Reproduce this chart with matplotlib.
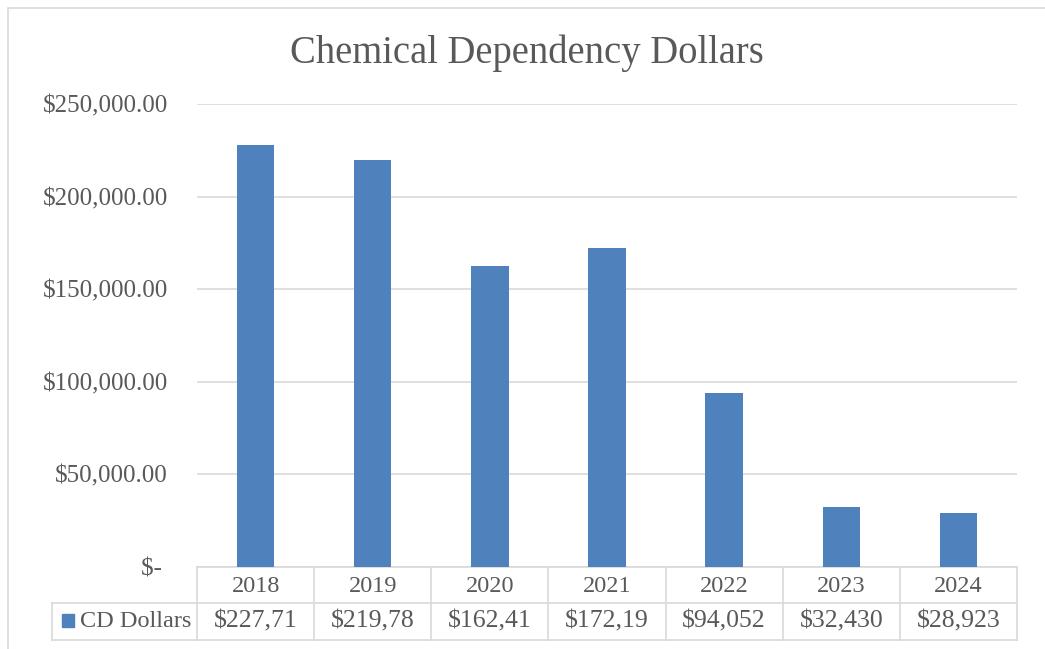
import matplotlib
matplotlib.use("Agg")
import matplotlib.pyplot as plt
from matplotlib.ticker import FuncFormatter
from matplotlib.patches import Rectangle
import numpy as np

years = ['2018', '2019', '2020', '2021', '2022', '2023', '2024']
cd_dollars = [227714, 219785, 162412, 172193, 94052, 32430, 28923]
series_name = 'CD Dollars'
title = 'Chemical Dependency Dollars'

bar_color = '#4f81bd'
text_color = '#595959'
grid_color = '#d9d9d9'
font = 'Liberation Serif'

plt.rcParams['font.family'] = [font, 'DejaVu Serif']

W, H = 1045, 649
fig = plt.figure(figsize=(W / 100, H / 100), dpi=100)

# outer chart border (runs off the right and bottom of the image)
fig.patches.append(Rectangle((8 / W, -0.1), 1.2, 1 - 8 / H + 0.1,
                             transform=fig.transFigure, fill=False,
                             edgecolor=grid_color, linewidth=1.2))

ax = fig.add_axes([197 / W, 1 - 567 / H, 820 / W, 463 / H])

n = len(years)
x = np.arange(n)
ax.bar(x, cd_dollars, width=0.32, color=bar_color, zorder=3)
ax.set_xlim(-0.5, n - 0.5)
ax.set_ylim(0, 250000)
ax.set_yticks(np.arange(0, 250001, 50000))


def money(v, pos):
    if v == 0:
        return '$- '
    return f'${v:,.2f}'


ax.yaxis.set_major_formatter(FuncFormatter(money))
ax.tick_params(axis='y', length=0, pad=21, labelsize=18, labelcolor=text_color)
ax.set_xticks([])
ax.grid(axis='y', color=grid_color, linewidth=1.2, zorder=0)
for s in ax.spines.values():
    s.set_visible(False)

fig.text(527 / W, 1 - 53 / H, title, ha='center', va='center',
         fontsize=27.8, color=text_color)

# data table under the plot: y in axes units, x in data units
xt = ax.get_xaxis_transform()
y_mid = -36 / 463
y_bot = -73 / 463
left = -145 / 820
line_kw = dict(color=grid_color, linewidth=1.2, clip_on=False)

ax.plot([0, 1], [0, 0], transform=ax.transAxes, **line_kw)
ax.plot([left, 1], [y_mid, y_mid], transform=ax.transAxes, **line_kw)
ax.plot([left, 1], [y_bot, y_bot], transform=ax.transAxes, **line_kw)
ax.plot([left, left], [y_mid, y_bot], transform=ax.transAxes, **line_kw)
for k in range(n + 1):
    ax.plot([k - 0.5, k - 0.5], [0, y_bot], transform=xt, **line_kw)

for i in range(n):
    ax.text(x[i], y_mid / 2 - 2 / 463, years[i], transform=xt, ha='center',
            va='center', fontsize=17.5, color=text_color)
    ax.text(x[i], (y_mid + y_bot) / 2, f'${cd_dollars[i]:,.0f}'[:7],
            transform=xt, ha='center', va='center', fontsize=18.5,
            color=text_color)

# legend key and series name in the row label cell
ax.add_patch(Rectangle((-135 / 820, -60 / 463), 12 / 820, 13 / 463,
                       transform=ax.transAxes, color=bar_color, clip_on=False))
ax.text(-117 / 820, (y_mid + y_bot) / 2, series_name, transform=ax.transAxes,
        ha='left', va='center', fontsize=17.5, color=text_color)

fig.savefig('out.png', dpi=100)
